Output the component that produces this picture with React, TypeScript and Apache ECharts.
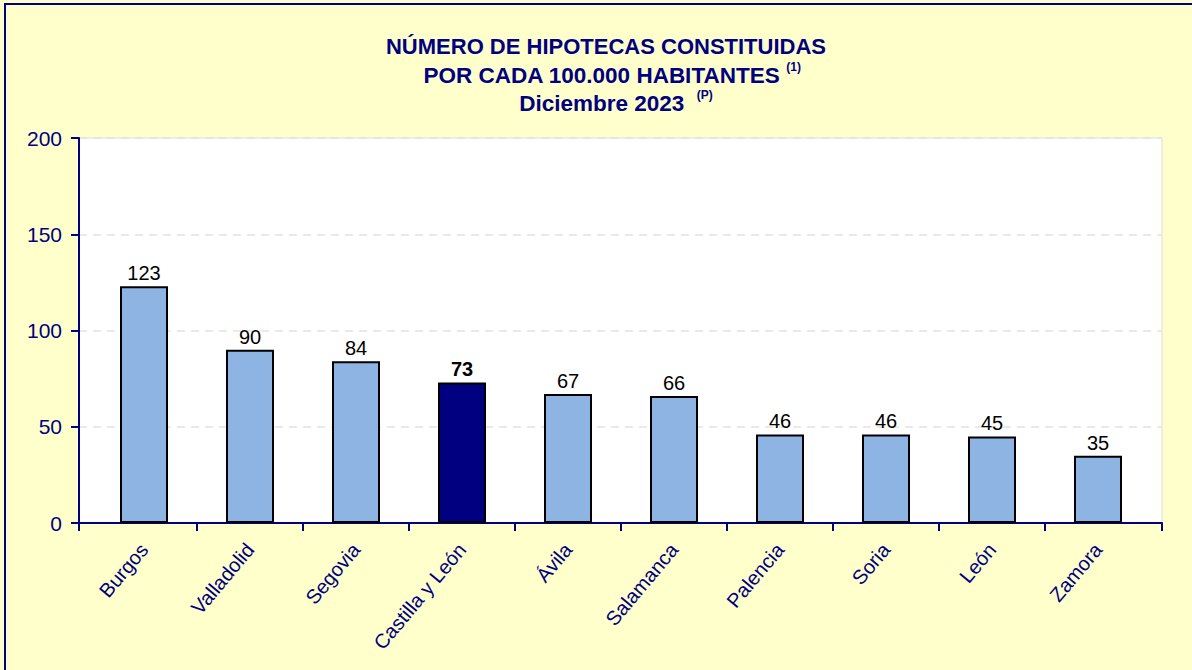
import React, { useEffect, useRef } from "react";
import * as echarts from "echarts";

const categories = ["Burgos", "Valladolid", "Segovia", "Castilla y León", "Ávila", "Salamanca", "Palencia", "Soria", "León", "Zamora"];
const values = [123, 90, 84, 73, 67, 66, 46, 46, 45, 35];
const highlight = "Castilla y León";
const yTicks = { min: 0, max: 200, interval: 50 };
const titleLines = ["NÚMERO DE HIPOTECAS CONSTITUIDAS", "POR CADA 100.000 HABITANTES", "Diciembre 2023"];
const titleNotes = ["", "(1)", "(P)"];

const NAVY = "#000080";
const FONT = "Arial, 'Liberation Sans', sans-serif";

export default function App() {
  const ref = useRef<HTMLDivElement>(null);
  useEffect(() => {
    document.body.style.margin = "0";
    const chart = echarts.init(ref.current!, null, { renderer: "svg" });
    const data = values.map((v, i) => {
      const hl = categories[i] === highlight;
      return {
        value: v,
        itemStyle: { color: hl ? NAVY : "#8EB4E3" },
        label: { fontWeight: hl ? "bold" : "normal" },
      };
    });
    const rich = {
      a: { fontFamily: FONT, fontSize: 22, fontWeight: "bold", fill: NAVY, lineHeight: 28 },
      b: { fontFamily: FONT, fontSize: 22.5, fontWeight: "bold", fill: NAVY, lineHeight: 28 },
      s: { fontFamily: FONT, fontSize: 12, fontWeight: "bold", fill: NAVY, lineHeight: 28, verticalAlign: "top", padding: [0, 0, 12, 0] },
    };
    const titleX = [606, 612, 616];
    const titleY = [46, 75, 103];
    const titleGraphics = titleLines.map((t, i) => ({
      type: "text",
      x: titleX[i],
      y: titleY[i],
      style: {
        text: titleNotes[i] ? `{b|${t}}{b| ${i === 2 ? " " : ""}}{s|${titleNotes[i]}}` : `{a|${t}}`,
        align: "center",
        verticalAlign: "middle",
        fill: NAVY,
        rich,
      },
    }));
    const tickData = categories.slice(1).map((_, i) => [i + 1, 0]);
    chart.setOption({
      animation: false,
      backgroundColor: "#FFFFCC",
      graphic: [
        { type: "rect", shape: { x: 4, y: 3, width: 1188, height: 2 }, style: { fill: NAVY } },
        { type: "rect", shape: { x: 4, y: 3, width: 2, height: 667 }, style: { fill: NAVY } },
        ...titleGraphics,
      ],
      grid: [
        {
          left: 79,
          right: 30,
          top: 138,
          bottom: 147,
          show: true,
          backgroundColor: "#FFFFFF",
          borderColor: "#DDDDDD",
          borderWidth: 1,
        },
        { left: 91, right: 41, top: 138, bottom: 147 },
      ],
      xAxis: [
        {
          type: "value",
          gridIndex: 0,
          min: 0,
          max: 1,
          interval: 1,
          axisLine: { show: true, lineStyle: { color: NAVY, width: 2 } },
          axisTick: { show: true, length: 8, lineStyle: { color: NAVY, width: 2 } },
          axisLabel: { show: false },
          splitLine: { show: false },
        },
        {
          type: "category",
          gridIndex: 1,
          data: categories,
          axisLine: { show: false },
          axisTick: { show: false },
          axisLabel: {
            rotate: 50,
            interval: 0,
            color: NAVY,
            fontFamily: FONT,
            fontSize: 20,
            margin: 23,
          },
        },
      ],
      yAxis: [
        {
          type: "value",
          gridIndex: 0,
          min: yTicks.min,
          max: yTicks.max,
          interval: yTicks.interval,
          axisLine: { show: true, lineStyle: { color: NAVY, width: 2 } },
          axisTick: { show: true, length: 8, lineStyle: { color: NAVY, width: 2 } },
          axisLabel: { color: NAVY, fontFamily: FONT, fontSize: 21, margin: 17 },
          splitLine: { show: true, lineStyle: { color: "#E3E3E3", type: [8, 6], width: 1.5 } },
        },
        {
          type: "value",
          gridIndex: 1,
          min: yTicks.min,
          max: yTicks.max,
          interval: yTicks.interval,
          show: false,
        },
      ],
      series: [
        {
          type: "bar",
          xAxisIndex: 1,
          yAxisIndex: 1,
          data,
          barWidth: 48,
          itemStyle: { borderColor: "#000000", borderWidth: 2 },
          label: {
            show: true,
            position: "top",
            distance: 3,
            color: "#000000",
            fontFamily: FONT,
            fontSize: 20,
          },
          z: 3,
        },
        {
          type: "custom",
          xAxisIndex: 1,
          yAxisIndex: 1,
          data: tickData,
          encode: { x: 0, y: 1 },
          clip: false,
          silent: true,
          z: 4,
          renderItem: (params: any, api: any) => {
            const idx = api.value(0);
            const p = api.coord([idx, 0]);
            const band = api.size([1, 0])[0];
            const x = p[0] - band / 2;
            return {
              type: "line",
              shape: { x1: x, y1: p[1], x2: x, y2: p[1] + 8 },
              style: { stroke: NAVY, lineWidth: 2 },
            };
          },
        },
      ],
    });
    return () => chart.dispose();
  }, []);
  return <div ref={ref} style={{ position: "absolute", left: 0, top: 0, width: 1192, height: 670 }} />;
}
